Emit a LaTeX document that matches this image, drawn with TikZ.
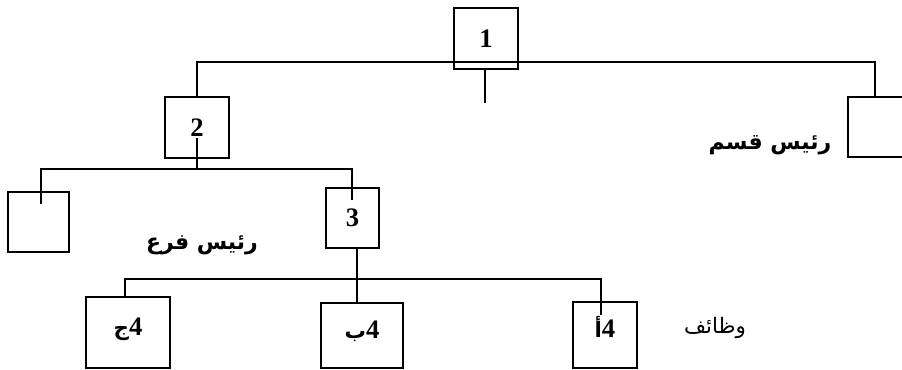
\documentclass[tikz,border=0pt]{standalone}
\usepackage{fontspec}
\setmainfont{Liberation Serif}
\newfontfamily\arabicfont[Script=Arabic]{DejaVu Sans}
\TeXXeTstate=1
\usepackage{tikz}
\usetikzlibrary{positioning}

\begin{document}
\begin{tikzpicture}[x=0.75pt, y=-0.75pt, line width=1.2pt,
  box/.style={draw, inner sep=0pt, font=\fontsize{20}{20}\selectfont\bfseries},
  lowbox/.style={box, text height=13pt, text depth=9pt},
  lbl/.style={inner sep=0pt, font=\arabicfont\bfseries\fontsize{16.5}{16.5}\selectfont}]
  \useasboundingbox (0,0) rectangle (902,369);
  \clip (0,0) rectangle (902,369);

  % level 1
  \node[box, minimum width=48pt, minimum height=45.75pt] (b1) at (486, 38.5) {1};
  \node[box, minimum width=48pt, minimum height=45.75pt] (b2) at (197, 127.5) {2};
  \node[box, minimum width=60pt, minimum height=45pt] (bR) at (888, 127) {};
  \node[lbl] (qism) at (770, 145) {\beginR رئيس قسم\endR};

  % level 2
  \node[box, minimum width=45.75pt, minimum height=45pt] (bL) at (38.5, 222) {};
  \node[box, minimum width=39.75pt, minimum height=45pt] (b3) at (352.5, 218) {3};
  \node[lbl] (far) at (202, 245) {\beginR رئيس فرع\endR};

  % level 3
  \node[lowbox, minimum width=63pt, minimum height=53.25pt] (b4j) at (128, 332.5) {{\arabicfont\fontsize{16}{16}\selectfont ج}4};
  \node[lowbox, minimum width=61.5pt, minimum height=48.75pt] (b4b) at (362, 335.5) {{\arabicfont\fontsize{16}{16}\selectfont ب}4};
  \node[lowbox, minimum width=48pt, minimum height=49.5pt] (b4a) at (605, 335) {{\arabicfont\fontsize{16}{16}\selectfont أ}4};
  \node[inner sep=0pt, font=\arabicfont\fontsize{16}{16}\selectfont] (wazaif) at (715, 328) {\beginR وظائف\endR};

  % connectors
  \coordinate (bus1) at (486, 62);
  \coordinate (topR) at (875, 97);
  \coordinate (stub1) at (485, 103);
  \draw (b2.north) |- (bus1) -| (topR);
  \draw (b1.south -| stub1) -- (stub1);

  \coordinate (tick2) at (197, 138);
  \coordinate (bus2) at (197, 169);
  \coordinate (tickL) at (41, 204);
  \coordinate (tick3) at (352, 200);
  \draw (tick2) -- (bus2);
  \draw (tickL) |- (bus2) -| (tick3);

  \coordinate (bus3) at (357, 279);
  \coordinate (top4j) at (125, 297);
  \coordinate (tick4a) at (601, 315);
  \draw (b3.south -| bus3) -- (b4b.north -| bus3);
  \draw (top4j) |- (bus3) -| (tick4a);
\end{tikzpicture}
\end{document}
